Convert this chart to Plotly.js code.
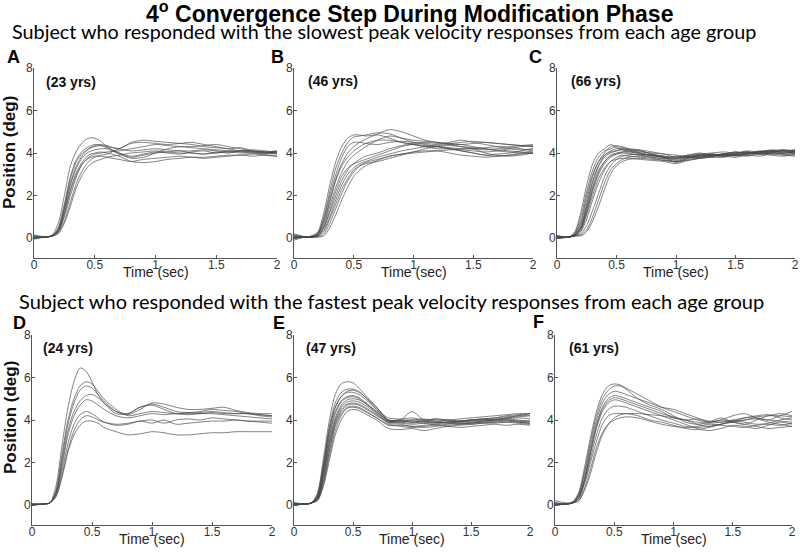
<!DOCTYPE html>
<html>
<head>
<meta charset="utf-8">
<script src="https://cdn.plot.ly/plotly-3.0.1.min.js"></script>
<style>html,body{margin:0;padding:0;background:#fff}#chart{width:800px;height:554px}</style>
</head>
<body>
<div id="chart"></div>
<script>
// Time samples (sec)
const TIME = [0,0.1,0.15,0.2,0.25,0.3,0.35,0.4,0.45,0.5,0.55,0.6,0.7,0.8,0.9,1.0,1.1,1.2,1.3,1.4,1.5,1.6,1.7,1.8,1.9,2.0];

const X_TICKS = [0,0.5,1,1.5,2];
const Y_TICKS = [0,2,4,6,8];
const PANEL_LETTERS = ['A','B','C','D','E','F'];
const PANEL_AGES = ['(23 yrs)','(46 yrs)','(66 yrs)','(24 yrs)','(47 yrs)','(61 yrs)'];
const TITLE_TEXT = '4<sup>o</sup> Convergence Step During Modification Phase';
const SUB_SLOW = 'Subject who responded with the slowest peak velocity responses from each age group';
const SUB_FAST = 'Subject who responded with the fastest peak velocity responses from each age group';
const X_LABEL = 'Time (sec)';
const Y_LABEL = 'Position (deg)';

// Position (deg) traces, panel A (23 yrs, slowest)
const POS_A = [
 [0.1,0.05,0.15,0.7,2.0,3.4,4.1,4.5,4.7,4.7,4.55,4.3,4.0,3.85,3.95,4.05,4.0,3.95,4.05,4.1,4.0,4.1,4.05,4.0,4.0,4.05],
 [0.0,0.05,0.1,0.5,1.6,2.9,3.7,4.1,4.3,4.4,4.35,4.25,4.0,3.8,3.9,4.0,4.05,4.1,4.0,3.95,4.05,4.0,4.1,4.05,4.0,4.1],
 [0.05,0.05,0.1,0.4,1.4,2.6,3.4,3.9,4.2,4.35,4.4,4.35,4.2,4.5,4.6,4.55,4.5,4.45,4.4,4.3,4.25,4.2,4.1,4.1,4.05,4.0],
 [0.15,0.05,0.1,0.35,1.2,2.3,3.1,3.6,3.9,4.0,4.05,4.0,3.85,3.6,3.55,3.6,3.7,3.75,3.8,3.8,3.85,3.9,3.9,3.95,3.9,3.85],
 [0.0,0.05,0.1,0.3,1.0,2.0,2.9,3.5,3.8,3.95,4.0,4.05,4.1,4.2,4.3,4.4,4.35,4.3,4.25,4.2,4.15,4.1,4.1,4.05,4.05,4.0],
 [-0.05,0.05,0.08,0.25,0.8,1.7,2.6,3.2,3.6,3.8,3.85,3.8,3.7,3.6,3.7,3.75,3.8,3.85,3.8,3.75,3.8,3.85,3.9,3.85,3.9,3.85],
 [0.1,0.05,0.1,0.35,1.3,2.5,3.3,3.8,4.05,4.15,4.2,4.2,3.95,3.75,3.8,4.0,4.2,4.3,4.3,4.35,4.4,4.3,4.2,4.1,4.05,4.1],
 [0.0,0.05,0.1,0.2,0.7,1.5,2.4,3.0,3.4,3.6,3.7,3.8,3.9,4.0,4.05,4.1,4.05,4.0,4.0,3.95,4.0,4.05,4.0,4.0,3.95,4.0],
 [0.05,0.05,0.1,0.45,1.5,2.8,3.6,4.0,4.2,4.3,4.35,4.3,4.2,4.1,4.15,4.2,4.15,4.1,4.1,4.15,4.1,4.05,4.1,4.15,4.1,4.05],
 [0.0,0.05,0.1,0.3,1.1,2.2,3.0,3.5,3.75,3.85,3.9,3.95,4.2,4.45,4.5,4.45,4.4,4.45,4.5,4.4,4.3,4.2,4.25,4.1,4.0,3.95]
];
// Panel B (46 yrs, slowest)
const POS_B = [
 [0.1,0.05,0.1,0.3,1.2,2.5,3.6,4.3,4.7,4.85,4.85,4.8,4.85,4.7,4.5,4.4,4.3,4.3,4.25,4.2,4.2,4.15,4.2,4.25,4.2,4.1],
 [0.0,0.05,0.1,0.25,1.0,2.2,3.3,4.0,4.5,4.75,4.8,4.85,4.95,4.9,4.7,4.5,4.4,4.3,4.2,4.1,4.0,3.9,3.95,4.0,4.1,4.2],
 [0.2,0.05,0.05,0.2,0.8,1.8,2.8,3.5,4.0,4.3,4.5,4.65,4.9,5.1,5.0,4.8,4.6,4.5,4.45,4.4,4.3,4.2,4.1,4.05,4.0,4.0],
 [0.0,0.05,0.05,0.15,0.6,1.5,2.4,3.1,3.6,3.9,4.1,4.3,4.6,4.8,4.7,4.6,4.55,4.5,4.45,4.5,4.55,4.5,4.45,4.4,4.35,4.3],
 [0.1,0.05,0.05,0.15,0.5,1.2,2.0,2.7,3.2,3.5,3.7,3.85,4.0,4.2,4.35,4.45,4.5,4.45,4.4,4.3,4.2,4.0,3.9,3.85,3.9,4.0],
 [-0.1,0.05,0.05,0.1,0.4,1.0,1.8,2.5,3.0,3.3,3.5,3.6,3.8,3.95,4.1,4.2,4.3,4.35,4.4,4.4,4.45,4.5,4.45,4.4,4.35,4.3],
 [0.0,0.05,0.05,0.05,0.2,0.7,1.4,2.1,2.7,3.1,3.4,3.55,3.7,3.85,3.95,4.05,4.1,4.1,4.0,3.9,3.85,3.8,3.85,3.9,3.95,4.0],
 [0.15,0.05,0.05,0.05,0.1,0.5,1.1,1.8,2.4,2.9,3.2,3.4,3.65,3.85,3.95,4.0,4.05,4.1,4.15,4.2,4.2,4.25,4.3,4.3,4.35,4.4],
 [0.0,0.05,0.05,0.2,0.9,2.0,3.0,3.8,4.3,4.5,4.5,4.45,4.4,4.5,4.55,4.5,4.45,4.4,4.5,4.6,4.5,4.4,4.3,4.2,4.15,4.2],
 [0.05,0.05,0.05,0.1,0.5,1.3,2.2,2.9,3.3,3.5,3.6,3.7,3.9,4.1,4.3,4.4,4.35,4.3,4.2,4.1,4.0,3.9,3.85,3.9,4.0,4.1],
 [0.0,0.05,0.05,0.2,0.7,1.7,2.7,3.4,3.8,4.1,4.3,4.45,4.6,4.6,4.5,4.4,4.3,4.2,4.2,4.15,4.1,4.05,4.1,4.2,4.3,4.35],
 [0.1,0.05,0.05,0.1,0.3,0.9,1.6,2.3,2.8,3.2,3.4,3.5,3.6,3.75,3.9,4.05,4.2,4.3,4.35,4.3,4.25,4.2,4.15,4.1,4.05,4.0]
];
// Panel C (66 yrs, slowest)
const POS_C = [
 [0.05,0.05,0.3,1.2,2.5,3.5,4.0,4.2,4.4,4.25,4.15,4.05,4.0,3.85,3.8,3.65,3.8,3.9,3.85,3.95,3.85,3.95,4.05,4.1,4.0,4.1],
 [0.0,0.05,0.25,1.0,2.2,3.2,3.8,4.1,4.2,4.3,4.25,4.2,4.15,4.05,3.95,3.8,3.9,3.95,3.85,3.9,4.0,4.05,3.95,4.0,4.1,4.0],
 [0.1,0.05,0.2,0.8,2.0,3.0,3.6,3.9,4.05,4.1,4.15,4.1,3.95,3.9,3.8,3.55,3.75,3.85,3.95,3.85,3.95,3.9,4.0,4.1,4.15,4.1],
 [0.0,0.05,0.15,0.6,1.6,2.7,3.4,3.8,4.0,4.1,4.2,4.15,4.1,3.95,3.75,3.7,3.8,3.75,3.85,3.95,3.9,4.0,4.05,3.95,4.0,4.05],
 [0.05,0.05,0.15,0.5,1.4,2.4,3.2,3.6,3.85,3.95,4.0,3.95,3.9,3.8,3.7,3.6,3.7,3.8,3.9,3.85,3.95,4.05,3.95,4.0,4.1,3.95],
 [0.0,0.05,0.1,0.4,1.2,2.2,3.0,3.5,3.8,3.95,4.05,4.1,4.05,4.0,3.95,3.9,3.85,3.95,4.0,4.05,4.0,4.1,4.05,4.15,4.1,4.15],
 [0.1,0.05,0.1,0.3,0.9,1.8,2.6,3.2,3.6,3.8,3.9,3.85,3.8,3.75,3.65,3.6,3.65,3.75,3.8,3.8,3.9,3.85,3.95,3.9,3.85,3.95],
 [0.0,0.05,0.1,0.2,0.6,1.3,2.1,2.9,3.4,3.7,3.85,3.9,3.95,3.9,3.8,3.75,3.85,3.8,3.9,3.95,3.9,4.0,4.05,4.05,3.95,4.0],
 [0.05,0.05,0.1,0.15,0.4,1.0,1.8,2.6,3.2,3.5,3.7,3.8,3.85,3.8,3.75,3.85,3.8,3.9,3.85,3.95,4.05,3.95,4.05,4.1,4.0,4.05],
 [0.0,0.05,0.1,0.1,0.3,0.8,1.5,2.3,3.0,3.4,3.6,3.7,3.75,3.7,3.65,3.6,3.75,3.85,3.95,3.9,3.9,3.95,4.05,4.0,3.95,3.9],
 [0.1,0.05,0.2,0.7,1.8,2.9,3.6,4.0,4.3,4.35,4.3,4.2,4.1,3.95,3.85,3.8,3.9,4.0,3.9,3.95,4.05,4.0,4.1,4.1,4.05,4.15],
 [0.0,0.05,0.15,0.5,1.5,2.6,3.4,3.9,4.1,4.2,4.2,4.15,4.0,3.9,3.8,3.75,3.8,3.9,3.95,3.85,3.95,4.0,3.95,4.05,4.1,4.05],
 [0.05,0.05,0.1,0.35,1.1,2.0,2.8,3.3,3.6,3.7,3.75,3.75,3.7,3.65,3.6,3.5,3.65,3.75,3.8,3.85,3.8,3.9,3.85,3.95,3.9,3.85],
 [0.0,0.05,0.15,0.45,1.3,2.3,3.1,3.6,3.9,4.0,4.05,4.0,3.9,3.9,3.85,3.75,3.85,3.8,3.9,3.95,4.0,4.05,4.0,4.05,4.15,4.05]
];
// Panel D (24 yrs, fastest)
const POS_D = [
 [0.05,0.05,0.1,0.9,2.8,4.6,5.8,6.45,6.3,5.8,5.2,4.8,4.3,4.3,4.6,4.75,4.6,4.4,4.35,4.4,4.5,4.45,4.4,4.3,4.25,4.2],
 [0.0,0.05,0.1,0.7,2.4,4.0,5.0,5.6,5.8,5.7,5.35,5.0,4.5,4.2,4.3,4.4,4.35,4.3,4.3,4.35,4.4,4.35,4.3,4.3,4.2,4.15],
 [0.05,0.05,0.1,0.6,2.2,3.8,4.8,5.4,5.6,5.5,5.2,4.9,4.4,4.25,4.5,4.8,4.75,4.6,4.5,4.5,4.55,4.6,4.45,4.35,4.3,4.3],
 [0.0,0.05,0.1,0.6,2.0,3.5,4.4,4.9,5.15,5.2,5.05,4.8,4.4,4.3,4.6,4.7,4.5,4.3,4.35,4.3,4.35,4.3,4.3,4.3,4.25,4.2],
 [0.05,0.05,0.1,0.5,1.8,3.3,4.2,4.7,4.95,4.9,4.7,4.5,4.2,4.1,4.2,4.3,4.25,4.3,4.25,4.3,4.3,4.25,4.2,4.15,4.1,4.05],
 [0.0,0.05,0.1,0.5,1.6,2.9,3.8,4.25,4.4,4.3,4.1,3.9,3.75,3.8,3.95,3.85,4.0,3.8,3.85,3.9,3.95,3.95,4.0,3.95,3.95,3.95],
 [0.05,0.05,0.1,0.4,1.4,2.6,3.5,4.0,4.2,4.15,4.0,3.9,3.8,3.85,3.95,4.0,3.85,4.0,4.05,4.0,4.1,4.05,4.0,3.95,3.9,3.85],
 [0.0,0.05,0.1,0.4,1.3,2.5,3.3,3.75,3.95,3.95,3.85,3.65,3.45,3.3,3.35,3.45,3.4,3.3,3.3,3.35,3.4,3.4,3.45,3.45,3.45,3.45]
];
// Panel E (47 yrs, fastest)
const POS_E = [
 [0.1,0.05,0.1,0.6,2.2,4.0,5.2,5.7,5.8,5.75,5.5,5.2,4.6,4.0,4.0,3.9,3.95,3.9,3.85,3.9,3.95,4.0,4.0,4.05,4.0,3.95],
 [0.0,0.05,0.1,0.5,2.0,3.7,4.8,5.3,5.45,5.45,5.35,5.1,4.6,4.0,3.95,3.9,3.85,3.8,3.9,3.85,3.9,3.95,4.0,4.0,3.95,3.9],
 [0.05,0.05,0.1,0.4,1.8,3.5,4.6,5.1,5.3,5.3,5.2,5.0,4.5,4.1,4.05,4.1,4.0,4.05,4.0,4.05,4.1,4.15,4.2,4.25,4.3,4.3],
 [0.0,0.05,0.1,0.4,1.6,3.2,4.3,4.85,5.05,5.1,5.0,4.8,4.4,3.95,4.0,4.0,4.05,3.95,3.9,3.95,4.0,4.05,4.1,4.15,4.2,4.2],
 [0.1,0.05,0.1,0.3,1.4,2.9,4.0,4.6,4.85,4.9,4.85,4.7,4.3,3.85,3.8,3.7,3.75,3.8,3.75,3.8,3.85,3.9,3.9,3.95,3.9,3.85],
 [0.0,0.05,0.1,0.3,1.2,2.6,3.8,4.4,4.7,4.75,4.7,4.55,4.2,3.9,3.9,3.85,3.95,4.0,3.95,3.9,4.0,4.05,4.1,4.2,4.25,4.3],
 [0.05,0.05,0.1,0.25,1.0,2.3,3.5,4.2,4.55,4.6,4.55,4.4,4.1,3.75,3.75,3.7,3.65,3.7,3.8,3.85,3.8,3.85,3.9,3.9,3.85,3.8],
 [0.0,0.05,0.1,0.2,0.9,2.1,3.3,4.0,4.4,4.5,4.45,4.3,4.0,3.6,3.55,3.6,3.5,3.6,3.7,3.65,3.7,3.75,3.8,3.75,3.8,3.75],
 [0.05,0.05,0.1,0.4,1.7,3.3,4.4,4.9,5.1,5.15,5.05,4.85,4.4,4.0,4.0,4.4,4.0,4.05,4.0,3.95,4.0,4.05,4.0,4.05,4.1,4.05],
 [0.0,0.05,0.1,0.35,1.5,3.0,4.1,4.7,4.95,5.0,4.95,4.8,4.35,3.95,3.95,4.0,3.95,3.9,4.0,3.95,3.9,3.95,4.0,4.1,4.2,4.3],
 [0.1,0.05,0.1,0.3,1.3,2.8,3.9,4.5,4.75,4.8,4.75,4.6,4.25,3.9,3.85,3.8,3.85,3.9,3.85,3.8,3.85,3.9,3.95,4.0,3.95,3.95],
 [0.0,0.05,0.1,0.5,1.9,3.6,4.6,5.1,5.35,5.4,5.3,5.1,4.5,3.95,3.9,3.95,3.9,3.85,3.9,3.95,4.0,4.0,4.05,4.1,4.15,4.2],
 [0.05,0.05,0.1,0.25,1.1,2.5,3.7,4.3,4.6,4.65,4.6,4.45,4.1,3.8,3.7,3.65,3.7,3.75,3.7,3.75,3.8,3.85,3.85,3.9,3.9,3.85]
];
// Panel F (61 yrs, fastest)
const POS_F = [
 [0.1,0.05,0.15,0.6,1.8,3.2,4.4,5.2,5.6,5.7,5.65,5.5,5.2,4.9,4.6,4.4,4.2,4.0,3.9,4.0,4.2,4.3,4.1,4.0,4.2,4.4],
 [0.0,0.05,0.1,0.5,1.6,3.0,4.2,5.0,5.4,5.6,5.6,5.45,5.0,4.7,4.5,4.2,3.9,3.8,3.9,4.1,3.9,3.8,4.0,4.2,4.3,4.2],
 [0.2,0.1,0.15,0.5,1.5,2.8,4.0,4.8,5.2,5.35,5.3,5.2,5.0,4.8,4.6,4.5,4.3,4.1,3.9,4.0,3.95,4.1,4.2,4.25,4.1,4.0],
 [0.0,0.05,0.1,0.4,1.3,2.6,3.8,4.6,5.0,5.15,5.1,5.0,4.8,4.6,4.4,4.1,4.0,3.8,3.7,3.8,3.95,3.9,3.8,3.85,4.0,4.1],
 [0.1,0.05,0.1,0.4,1.2,2.4,3.6,4.4,4.8,4.95,4.9,4.8,4.6,4.4,4.2,4.0,3.8,3.6,3.5,3.6,3.75,3.7,3.6,3.75,3.9,3.8],
 [0.0,0.05,0.1,0.3,1.1,2.2,3.3,4.1,4.5,4.65,4.65,4.6,4.4,4.2,4.0,3.85,3.7,3.65,3.7,3.8,3.9,4.0,4.1,4.0,3.95,3.9],
 [0.05,0.05,0.1,0.3,1.0,2.0,3.0,3.8,4.2,4.3,4.3,4.3,4.3,4.25,4.2,4.1,4.0,4.05,3.95,3.9,3.95,4.0,4.05,3.9,3.8,3.7],
 [0.0,0.05,0.1,0.2,0.8,1.7,2.7,3.4,3.8,4.0,4.1,4.15,4.1,3.95,3.8,3.7,3.65,3.7,3.8,3.75,3.7,3.65,3.75,3.8,3.75,3.85],
 [0.1,0.05,0.1,0.2,0.7,1.5,2.5,3.3,3.8,4.1,4.25,4.3,4.2,4.0,3.9,3.75,3.6,3.55,3.65,3.8,3.9,3.8,3.7,3.6,3.65,3.7],
 [0.0,0.05,0.1,0.35,1.2,2.5,3.7,4.5,4.9,5.05,5.0,4.9,4.7,4.5,4.3,4.15,4.0,3.9,3.85,3.9,4.0,4.1,4.15,4.2,4.2,4.15]
];

const PANELS = [POS_A, POS_B, POS_C, POS_D, POS_E, POS_F];

// layout geometry in pixels (left, right, top, bottom)
const W = 800, H = 554;
const BOX = [
 [34,277,68,258],[294,533,68,258],[557,795,68,258],
 [32,272,335,525],[294,530,335,525],[555,792,335,525]
];
const SANS = 'Liberation Sans, Arial, sans-serif';

const data = [];
PANELS.forEach((set, p) => {
  const sfx = p === 0 ? '' : String(p + 1);
  set.forEach(series => {
    data.push({
      x: TIME, y: series, xaxis: 'x' + sfx, yaxis: 'y' + sfx,
      type: 'scatter', mode: 'lines', hoverinfo: 'skip', showlegend: false,
      line: {color: 'rgba(70,70,70,0.75)', width: 0.9, shape: 'spline', smoothing: 0.8}
    });
  });
});

const layout = {
  width: W, height: H, margin: {l: 0, r: 0, t: 0, b: 0},
  paper_bgcolor: '#fff', plot_bgcolor: '#fff', showlegend: false,
  font: {family: SANS, color: '#333'},
  annotations: []
};

BOX.forEach((b, p) => {
  const sfx = p === 0 ? '' : String(p + 1);
  const axBase = {
    showline: true, linecolor: '#555', linewidth: 1, showgrid: false, zeroline: false,
    ticks: 'inside', ticklen: 3, tickcolor: '#555', tickwidth: 1,
    tickfont: {family: SANS, size: 12, color: '#333'}, fixedrange: true
  };
  layout['xaxis' + sfx] = Object.assign({}, axBase, {
    domain: [b[0] / W, b[1] / W], range: [0, 2], tickvals: X_TICKS,
    ticktext: X_TICKS.map(String), anchor: 'y' + sfx, ticklabelstandoff: -4
  });
  layout['yaxis' + sfx] = Object.assign({}, axBase, {
    domain: [1 - b[3] / H, 1 - b[2] / H], range: [-0.94, 8], tickvals: Y_TICKS,
    ticktext: Y_TICKS.map(String), anchor: 'x' + sfx, ticklabelstandoff: -2
  });
  // x-axis title
  layout.annotations.push({
    text: X_LABEL, xref: 'paper', yref: 'paper', x: (b[0] + b[1]) / 2 / W,
    y: 1 - (b[3] + 14) / H, xanchor: 'center', yanchor: 'middle', showarrow: false,
    font: {family: SANS, size: 14, color: '#222'}
  });
});

const letterPos = [[13,57],[277,57],[535,57],[19,323],[279,323],[538,322]];
const agePos = [[44,82],[306,81],[569,81],[41,348],[304,348],[567,348]];
PANEL_LETTERS.forEach((L, i) => {
  layout.annotations.push({
    text: '<b>' + L + '</b>', xref: 'paper', yref: 'paper', x: letterPos[i][0] / W,
    y: 1 - letterPos[i][1] / H, xanchor: 'center', yanchor: 'middle', showarrow: false,
    font: {family: SANS, size: 18, color: '#000'}
  });
  layout.annotations.push({
    text: '<b>' + PANEL_AGES[i] + '</b>', xref: 'paper', yref: 'paper', x: agePos[i][0] / W,
    y: 1 - agePos[i][1] / H, xanchor: 'left', yanchor: 'middle', showarrow: false,
    font: {family: SANS, size: 14, color: '#111'}
  });
});

[[10,153],[10,418]].forEach(pos => {
  layout.annotations.push({
    text: '<b>' + Y_LABEL + '</b>', xref: 'paper', yref: 'paper', x: pos[0] / W,
    y: 1 - pos[1] / H, xanchor: 'center', yanchor: 'middle', textangle: -90, showarrow: false,
    font: {family: SANS, size: 17, color: '#111'}
  });
});

layout.annotations.push({
  text: '<b>' + TITLE_TEXT + '</b>', xref: 'paper', yref: 'paper', x: 410 / W, y: 1 - 12 / H,
  xanchor: 'center', yanchor: 'middle', showarrow: false,
  font: {family: 'Liberation Sans Narrow, Arial Narrow, Liberation Sans, sans-serif', size: 23, color: '#000'}
});
layout.annotations.push({
  text: SUB_SLOW, xref: 'paper', yref: 'paper', x: 10 / W, y: 1 - 31 / H,
  xanchor: 'left', yanchor: 'middle', showarrow: false,
  font: {family: 'Lato, sans-serif', size: 19.8, color: '#000'}
});
layout.annotations.push({
  text: SUB_FAST, xref: 'paper', yref: 'paper', x: 17 / W, y: 1 - 301 / H,
  xanchor: 'left', yanchor: 'middle', showarrow: false,
  font: {family: 'Lato, sans-serif', size: 20, color: '#000'}
});

Plotly.newPlot('chart', data, layout, {displayModeBar: false, staticPlot: true});
</script>
</body>
</html>
